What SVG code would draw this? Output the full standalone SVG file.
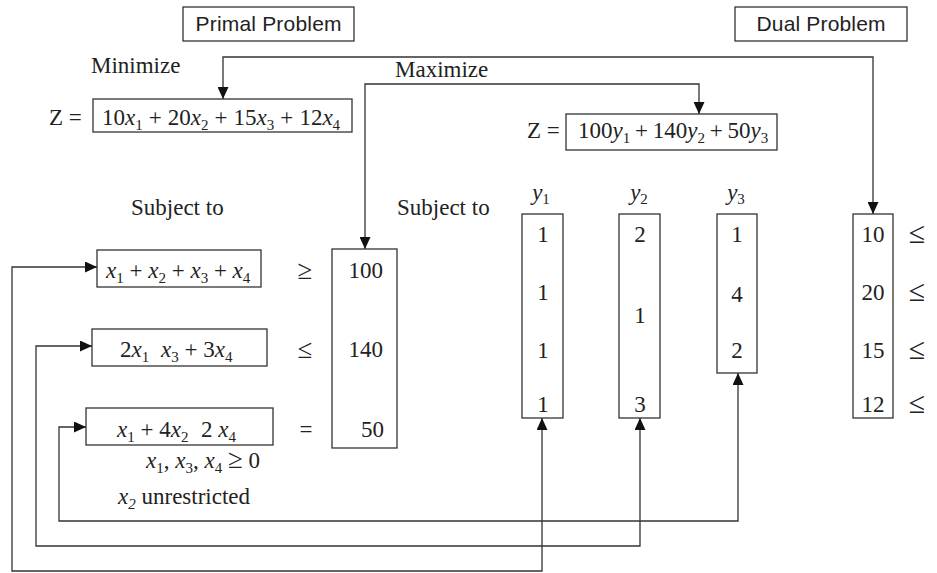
<svg xmlns="http://www.w3.org/2000/svg" width="937" height="573" viewBox="0 0 937 573">
<style>
.box{fill:#fff;stroke:#333;stroke-width:1.3}
.sans{font-family:"Liberation Sans",Arial,sans-serif;font-size:21px;fill:#222}
.t{font-family:"Liberation Serif","Times New Roman",serif;font-size:23px;fill:#222}
.i{font-style:italic}
.s{font-size:15px}
.rel{font-size:27px}
.rel2{font-size:30px}
.c{text-anchor:middle}
.e{text-anchor:end}
.conn{fill:none;stroke:#333;stroke-width:1.3}
</style>
<defs>
<marker id="ah" markerUnits="userSpaceOnUse" markerWidth="12" markerHeight="11" refX="12" refY="5.5" orient="auto-start-reverse">
<path d="M0,0 L12,5.5 L0,11 Z" fill="#111"/>
</marker>
</defs>
<rect width="937" height="573" fill="#fff"/>

<g id="connectors">
<path class="conn" d="M223,99 V57 H873 V214" marker-start="url(#ah)" marker-end="url(#ah)"/>
<path class="conn" d="M365,249 V84 H699 V114" marker-start="url(#ah)" marker-end="url(#ah)"/>
<path class="conn" d="M97,267 H12 V571 H542 V418" marker-start="url(#ah)" marker-end="url(#ah)"/>
<path class="conn" d="M92,346 H36 V546 H640 V418" marker-start="url(#ah)" marker-end="url(#ah)"/>
<path class="conn" d="M86,427 H59 V521 H738 V373" marker-start="url(#ah)" marker-end="url(#ah)"/>
</g>

<g id="primal-title">
<rect class="box" x="183" y="7" width="171" height="34"/>
<text class="sans c" x="268.5" y="31" textLength="146">Primal Problem</text>
</g>
<g id="dual-title">
<rect class="box" x="735" y="7" width="172" height="34"/>
<text class="sans c" x="821" y="31" textLength="129">Dual Problem</text>
</g>

<g id="minimize">
<text class="t" x="91" y="73">Minimize</text>
</g>
<g id="primal-objective">
<text class="t" x="49" y="125">Z =</text>
<rect class="box" x="93" y="99" width="259" height="33"/>
<text class="t" x="102" y="125" style="word-spacing:0.3px">10<tspan class="i">x</tspan><tspan class="s" dy="5">1</tspan><tspan dy="-5"> + 20</tspan><tspan class="i">x</tspan><tspan class="s" dy="5">2</tspan><tspan dy="-5"> + 15</tspan><tspan class="i">x</tspan><tspan class="s" dy="5">3</tspan><tspan dy="-5"> + 12</tspan><tspan class="i">x</tspan><tspan class="s" dy="5">4</tspan></text>
</g>

<g id="maximize">
<text class="t" x="395" y="77">Maximize</text>
</g>
<g id="dual-objective">
<text class="t" x="527" y="138">Z =</text>
<rect class="box" x="566" y="114" width="211" height="36"/>
<text class="t" x="578" y="138" style="word-spacing:-1px">100<tspan class="i">y</tspan><tspan class="s" dy="5">1</tspan><tspan dy="-5"> + 140</tspan><tspan class="i">y</tspan><tspan class="s" dy="5">2</tspan><tspan dy="-5"> + 50</tspan><tspan class="i">y</tspan><tspan class="s" dy="5">3</tspan></text>
</g>

<g id="primal-subject">
<text class="t" x="131" y="215">Subject to</text>
</g>
<g id="dual-subject">
<text class="t" x="397" y="215">Subject to</text>
</g>

<g id="constraint-1">
<rect class="box" x="97" y="250" width="164" height="37"/>
<text class="t" x="106" y="278"><tspan class="i">x</tspan><tspan class="s" dy="5">1</tspan><tspan dy="-5"> + </tspan><tspan class="i">x</tspan><tspan class="s" dy="5">2</tspan><tspan dy="-5"> + </tspan><tspan class="i">x</tspan><tspan class="s" dy="5">3</tspan><tspan dy="-5"> + </tspan><tspan class="i">x</tspan><tspan class="s" dy="5">4</tspan></text>
<text class="t rel c" x="305" y="279">≥</text>
</g>
<g id="constraint-2">
<rect class="box" x="92" y="329" width="175" height="37"/>
<text class="t" x="120" y="357">2<tspan class="i">x</tspan><tspan class="s" dy="5">1</tspan><tspan class="i" x="161" dy="-5">x</tspan><tspan class="s" dy="5">3</tspan><tspan dy="-5"> + 3</tspan><tspan class="i">x</tspan><tspan class="s" dy="5">4</tspan></text>
<text class="t rel c" x="305" y="358">≤</text>
</g>
<g id="constraint-3">
<rect class="box" x="86" y="408" width="187" height="37"/>
<text class="t" x="117" y="437"><tspan class="i">x</tspan><tspan class="s" dy="5">1</tspan><tspan dy="-5"> + 4</tspan><tspan class="i">x</tspan><tspan class="s" dy="5">2</tspan><tspan x="201" dy="-5">2 </tspan><tspan class="i">x</tspan><tspan class="s" dy="5">4</tspan></text>
<text class="t c" x="306" y="437">=</text>
</g>

<g id="rhs">
<rect class="box" x="332" y="249" width="65" height="199"/>
<text class="t e" x="383" y="278">100</text>
<text class="t e" x="383" y="357">140</text>
<text class="t e" x="384" y="437">50</text>
</g>

<g id="nonnegativity">
<text class="t" x="146" y="468"><tspan class="i">x</tspan><tspan class="s" dy="5">1</tspan><tspan dy="-5">, </tspan><tspan class="i">x</tspan><tspan class="s" dy="5">3</tspan><tspan dy="-5">, </tspan><tspan class="i">x</tspan><tspan class="s" dy="5">4</tspan><tspan dy="-5"> </tspan><tspan class="rel">≥</tspan><tspan> 0</tspan></text>
<text class="t" x="118" y="504"><tspan class="i">x</tspan><tspan class="s i" dy="5">2</tspan><tspan dy="-5"> unrestricted</tspan></text>
</g>

<g id="col-y1">
<text class="t c" x="541" y="200"><tspan class="i">y</tspan><tspan class="s" dy="4">1</tspan></text>
<rect class="box" x="522" y="214" width="41" height="204"/>
<text class="t c" x="543" y="242">1</text>
<text class="t c" x="543" y="300">1</text>
<text class="t c" x="543" y="358">1</text>
<text class="t c" x="543" y="412">1</text>
</g>
<g id="col-y2">
<text class="t c" x="639" y="200"><tspan class="i">y</tspan><tspan class="s" dy="4">2</tspan></text>
<rect class="box" x="619" y="214" width="41" height="204"/>
<text class="t c" x="640" y="242">2</text>
<text class="t c" x="640" y="323">1</text>
<text class="t c" x="640" y="412">3</text>
</g>
<g id="col-y3">
<text class="t c" x="736" y="200"><tspan class="i">y</tspan><tspan class="s" dy="4">3</tspan></text>
<rect class="box" x="717" y="214" width="40" height="159"/>
<text class="t c" x="737" y="242">1</text>
<text class="t c" x="737" y="302">4</text>
<text class="t c" x="737" y="358">2</text>
</g>
<g id="col-costs">
<rect class="box" x="853" y="214" width="40" height="204"/>
<text class="t c" x="873" y="242">10</text>
<text class="t c" x="873" y="300">20</text>
<text class="t c" x="873" y="358">15</text>
<text class="t c" x="873" y="412">12</text>
<text class="t rel2 c" x="917" y="243">≤</text>
<text class="t rel2 c" x="917" y="301">≤</text>
<text class="t rel2 c" x="917" y="359">≤</text>
<text class="t rel2 c" x="917" y="413">≤</text>
</g>
</svg>
